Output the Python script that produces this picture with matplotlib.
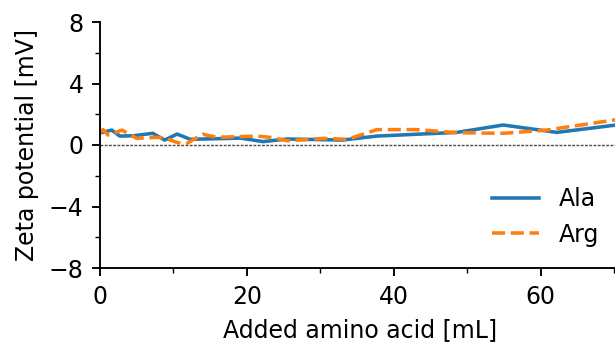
import matplotlib
matplotlib.use("Agg")
import matplotlib.pyplot as plt
from matplotlib.ticker import MultipleLocator

ala_x = [0, 1.6, 2.7, 4.5, 7.2, 8.8, 10.5, 12.3, 17.7, 19.1, 22.2, 25.5, 30.0, 33.0, 37.7, 48.6, 54.9, 62.2, 70.8]
ala_y = [0.78, 0.97, 0.58, 0.6, 0.76, 0.32, 0.71, 0.37, 0.43, 0.45, 0.22, 0.39, 0.35, 0.32, 0.58, 0.82, 1.3, 0.82, 1.33]

arg_x = [0, 0.4, 1.1, 3.0, 5.0, 7.8, 8.8, 10.6, 11.8, 14.0, 15.9, 21.4, 23.1, 25.5, 28.2, 30.4, 33.7, 37.7, 43.1, 48.6, 54.9, 60.8, 70.8]
arg_y = [0.78, 1.0, 0.65, 0.97, 0.43, 0.5, 0.45, 0.15, 0.1, 0.7, 0.5, 0.58, 0.5, 0.28, 0.35, 0.43, 0.37, 1.0, 1.0, 0.8, 0.76, 0.97, 1.68]

DPI = 170
plt.rcParams['font.size'] = 10
fig = plt.figure(figsize=(615/DPI, 343/DPI), dpi=DPI)
ax = fig.add_axes([100/615, 1-268/343, (620-100)/615, (268-22)/343])

ax.axhline(0, color='0.3', lw=0.6, ls=(0, (2, 1)))
ax.plot(ala_x, ala_y, color='#1f77b4', lw=1.5, label='Ala')
ax.plot(arg_x, arg_y, color='#ff7f0e', lw=1.5, ls='--', label='Arg')

ax.set_xlim(0, 70.8)
ax.set_ylim(-8, 8)
ax.set_yticks([-8, -4, 0, 4, 8])
ax.yaxis.set_minor_locator(MultipleLocator(2))
ax.xaxis.set_major_locator(MultipleLocator(20))
ax.xaxis.set_minor_locator(MultipleLocator(10))
ax.spines['top'].set_visible(False)
ax.spines['right'].set_visible(False)
ax.set_xlabel('Added amino acid [mL]')
ax.set_ylabel('Zeta potential [mV]')
ax.legend(loc='lower right', frameon=False)

fig.savefig('out.png', dpi=DPI)
